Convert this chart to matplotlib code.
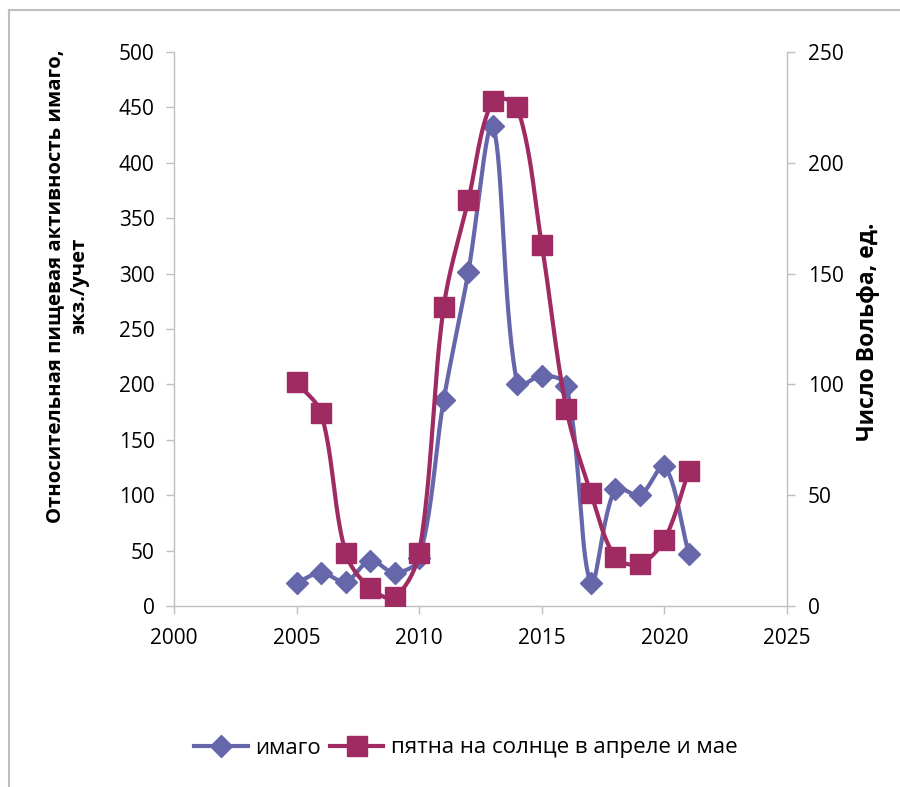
import matplotlib
matplotlib.use('Agg')
import matplotlib.pyplot as plt
from matplotlib.lines import Line2D
import numpy as np

plt.rcParams['font.family'] = ['Open Sans', 'DejaVu Sans']

# data
years = [2005, 2006, 2007, 2008, 2009, 2010, 2011, 2012, 2013,
         2014, 2015, 2016, 2017, 2018, 2019, 2020, 2021]
imago = [21, 30, 22, 41, 30, 43, 186, 301, 433,
         200, 208, 199, 21, 106, 100, 126, 47]
sunspots = [101, 87, 24, 8, 4, 24, 135, 183, 228,
            225, 163, 89, 51, 22, 19, 30, 61]

label_imago = 'имаго'
label_sun = 'пятна на солнце в апреле и мае'
ylabel_left = 'Относительная пищевая активность имаго,\nэкз./учет'
ylabel_right = 'Число Вольфа, ед.'

c_imago = '#6666aa'
c_sun = '#a02a62'
grey = '#bfbfbf'


def smooth(xs, ys, xr, yr, w, h, n=40):
    # smoothed line like excel: bezier through the points, in pixel space,
    # handle lengths scaled by the neighbouring segment lengths
    p = np.column_stack([(np.asarray(xs, float) - xr[0]) / (xr[1] - xr[0]) * w,
                         (np.asarray(ys, float) - yr[0]) / (yr[1] - yr[0]) * h])
    m = len(p)
    d = np.linalg.norm(np.diff(p, axis=0), axis=1)
    out = [p[0]]
    t = np.linspace(0, 1, n)[1:, None]
    for i in range(m - 1):
        p1, p2 = p[i], p[i + 1]
        if i > 0:
            tan1 = (p2 - p[i - 1]) / (d[i - 1] + d[i])
        else:
            tan1 = (p2 - p1) / d[i]
        if i + 2 < m:
            tan2 = (p[i + 2] - p1) / (d[i] + d[i + 1])
        else:
            tan2 = (p2 - p1) / d[i]
        c1 = p1 + tan1 * d[i] / 3
        c2 = p2 - tan2 * d[i] / 3
        seg = ((1 - t) ** 3) * p1 + 3 * ((1 - t) ** 2) * t * c1 \
            + 3 * (1 - t) * t ** 2 * c2 + t ** 3 * p2
        out.extend(seg)
    out = np.array(out)
    x = out[:, 0] / w * (xr[1] - xr[0]) + xr[0]
    y = out[:, 1] / h * (yr[1] - yr[0]) + yr[0]
    return x, y


W, H = 900, 787
fig = plt.figure(figsize=(W / 100, H / 100), dpi=100)
L, R, T, B = 174, 787, 52, 606
ax = fig.add_axes([L / W, 1 - B / H, (R - L) / W, (B - T) / H])
ax2 = ax.twinx()

xr = (2000, 2025)
sx, sy = smooth(years, imago, xr, (0, 500), R - L, B - T)
ax.plot(sx, sy, color=c_imago, lw=3, zorder=2)
ax.plot(years, imago, ls='none', marker='D', ms=11, color=c_imago, zorder=3)

sx2, sy2 = smooth(years, sunspots, xr, (0, 250), R - L, B - T)
ax2.plot(sx2, sy2, color=c_sun, lw=3, zorder=2)
ax2.plot(years, sunspots, ls='none', marker='s', ms=14, color=c_sun, zorder=3)

ax.set_xlim(*xr)
ax.set_ylim(0, 500)
ax2.set_ylim(0, 250)
ax.set_xticks(range(2000, 2026, 5))
ax.set_yticks(range(0, 501, 50))
ax2.set_yticks(range(0, 251, 50))

for a in (ax, ax2):
    for s in a.spines.values():
        s.set_visible(False)
    a.tick_params(colors=grey, labelcolor='black', labelsize=15,
                  length=6, width=1)
ax.spines['left'].set_visible(True)
ax.spines['bottom'].set_visible(True)
ax2.spines['right'].set_visible(True)
for s in (ax.spines['left'], ax.spines['bottom'], ax2.spines['right']):
    s.set_color(grey)
    s.set_linewidth(1)
ax.tick_params(axis='y', pad=8)
ax.tick_params(axis='x', pad=10)
ax2.tick_params(axis='y', pad=9)

fig.text(67 / W, 1 - 286 / H, ylabel_left, rotation=90, ha='center',
         va='center', fontsize=14.6, fontweight='bold', linespacing=1.25)
fig.text(868 / W, 1 - 332 / H, ylabel_right, rotation=90, ha='center',
         va='center', fontsize=16.5, fontweight='bold')

handles = [Line2D([], [], color=c_imago, lw=3, marker='D', ms=11),
           Line2D([], [], color=c_sun, lw=3, marker='s', ms=14)]
fig.legend(handles, [label_imago, label_sun], loc='center', ncol=2,
           bbox_to_anchor=(466 / W, 1 - 748 / H), frameon=False,
           fontsize=16, handlelength=2.4, columnspacing=0.4,
           handletextpad=0.35)

# chart area border (cut off on right and bottom)
fig.add_artist(Line2D([9 / W, 1], [1 - 10 / H, 1 - 10 / H], color=grey, lw=1.5))
fig.add_artist(Line2D([9 / W, 9 / W], [0, 1 - 10 / H], color=grey, lw=1.5))

fig.savefig('out.png', dpi=100)
